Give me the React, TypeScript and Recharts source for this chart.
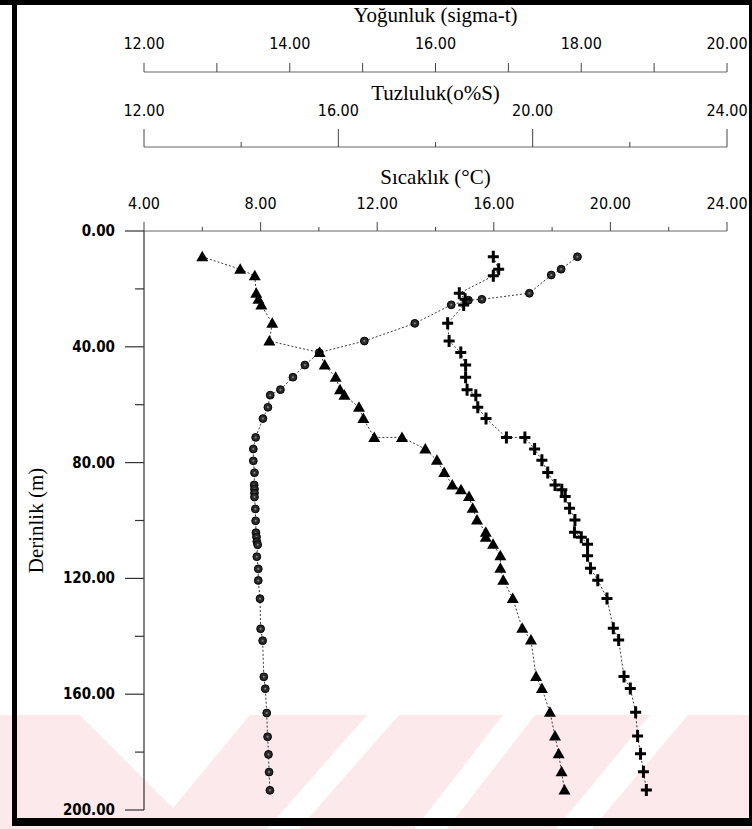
import React from "react";
import { ScatterChart, Scatter, XAxis, YAxis } from "recharts";

// depths (m) shared by the density and salinity casts
const depthDS = [
  8.9, 13.2, 15.5, 21.5, 23.6, 25.6, 31.9, 38.0, 42.0, 46.3, 50.5, 54.8, 56.7, 60.9, 64.8, 71.3, 71.3, 75.3,
  79.2, 83.4, 87.7, 89.4, 91.7, 95.8, 99.8, 104.1, 105.8, 108.2, 112.2, 116.5, 120.6, 126.9, 137.2, 141.3,
  153.9, 158.0, 166.2, 174.4, 180.6, 186.8, 193.1,
];
const density = [
  12.8, 13.32, 13.52, 13.54, 13.57, 13.61, 13.76, 13.72, 14.41, 14.48, 14.63, 14.69, 14.75, 14.95, 15.01,
  15.16, 15.54, 15.86, 16.02, 16.12, 16.23, 16.35, 16.46, 16.51, 16.57, 16.69, 16.69, 16.79, 16.89, 16.89,
  16.93, 17.06, 17.19, 17.31, 17.38, 17.46, 17.57, 17.64, 17.69, 17.73, 17.77,
];
const salinity = [
  19.19, 19.3, 19.19, 18.49, 18.61, 18.58, 18.25, 18.28, 18.52, 18.62, 18.62, 18.65, 18.83, 18.87, 19.04,
  19.46, 19.84, 20.04, 20.19, 20.31, 20.46, 20.6, 20.67, 20.76, 20.87, 20.86, 21.0, 21.13, 21.13, 21.19,
  21.34, 21.53, 21.66, 21.77, 21.88, 22.01, 22.12, 22.16, 22.22, 22.28, 22.34,
];

const depthT = [
  8.9, 13.2, 15.2, 21.5, 23.6, 23.9, 25.5, 31.9, 38.0, 42.0, 46.3, 50.5, 54.8, 56.7, 60.9, 64.8, 71.3, 75.3,
  79.4, 83.5, 87.7, 89.1, 90.5, 91.9, 96.0, 100.1, 104.2, 105.7, 107.3, 108.4, 112.5, 116.7, 120.7, 127.0,
  137.4, 141.5, 154.0, 158.1, 166.5, 174.7, 180.8, 186.9, 193.2,
];
const temperature = [
  18.87, 18.31, 17.97, 17.22, 15.59, 15.13, 14.54, 13.29, 11.56, 10.01, 9.52, 9.11, 8.68, 8.33, 8.25, 8.08,
  7.83, 7.75, 7.75, 7.79, 7.78, 7.79, 7.79, 7.79, 7.82, 7.83, 7.84, 7.86, 7.87, 7.9, 7.87, 7.92, 7.92, 7.98,
  8.0, 8.07, 8.11, 8.16, 8.21, 8.24, 8.27, 8.29, 8.32,
];

const densityTicks = [12, 13, 14, 15, 16, 17, 18, 19, 20];
const salinityTicks = [12, 14, 16, 18, 20, 22, 24];
const tempTicks = [4, 6, 8, 10, 12, 14, 16, 18, 20, 22, 24];
const depthTicks = [0, 20, 40, 60, 80, 100, 120, 140, 160, 180, 200];

const densityData = density.map((v, i) => ({ v, depth: depthDS[i] }));
const salinityData = salinity.map((v, i) => ({ v, depth: depthDS[i] }));
const tempData = temperature.map((v, i) => ({ v, depth: depthT[i] }));

const tickFont = '"DejaVu Sans Condensed", "DejaVu Sans", sans-serif';
const titleFont = '"Liberation Serif", "DejaVu Serif", serif';
const linkLine = { stroke: "#3a3a3a", strokeWidth: 1, strokeDasharray: "2 2" };

const AxisTitle = ({ viewBox, value, dy }: any) => {
  if (!viewBox) return null;
  return (
    <text
      x={viewBox.x + viewBox.width / 2}
      y={viewBox.y + dy}
      textAnchor="middle"
      dominantBaseline="central"
      fontFamily={titleFont}
      fontSize={21}
      fill="#000"
    >
      {value}
    </text>
  );
};

// top axis tick: short line pointing up from the axis, label above it
const topTick = (labelEvery: number, gap: number, longLen: number, shortLen: number) => (p: any) => {
  const val = p.payload.value;
  const labelled = Math.abs(val / labelEvery - Math.round(val / labelEvery)) < 1e-6;
  return (
    <g>
      <line x1={p.x} x2={p.x} y1={p.y} y2={p.y - (labelled ? longLen : shortLen)} stroke="#444" strokeWidth={1} />
      {labelled && (
        <text x={p.x} y={p.y - gap} textAnchor="middle" dominantBaseline="central" fontFamily={tickFont} fontSize={16} fill="#000">
          {val.toFixed(2)}
        </text>
      )}
    </g>
  );
};

const DepthTick = (p: any) => {
  const val = p.payload.value;
  const labelled = val % 40 === 0;
  return (
    <g>
      <line x1={p.x - (labelled ? 19 : 9)} x2={p.x} y1={p.y} y2={p.y} stroke="#333" strokeWidth={1.2} />
      {labelled && (
        <text x={p.x - 29} y={p.y} textAnchor="end" dominantBaseline="central" fontFamily={tickFont} fontWeight="bold" fontSize={15} fill="#000">
          {val.toFixed(2)}
        </text>
      )}
    </g>
  );
};

const DepthTitle = ({ viewBox }: any) => {
  if (!viewBox) return null;
  const cy = viewBox.y + viewBox.height / 2;
  return (
    <text x={36} y={cy} transform={`rotate(-90 36 ${cy})`} textAnchor="middle" dominantBaseline="central" fontFamily={titleFont} fontSize={21} fill="#000">
      Derinlik (m)
    </text>
  );
};

const Triangle = ({ cx, cy }: any) => (
  <polygon points={`${cx},${cy - 6} ${cx - 6},${cy + 4.5} ${cx + 6},${cy + 4.5}`} fill="#000" />
);
const Dot = ({ cx, cy }: any) => (
  <g>
    <circle cx={cx} cy={cy} r={3.9} fill="#2b2b2b" stroke="#000" strokeWidth={1} />
    <circle cx={cx} cy={cy} r={1} fill="#8a8a8a" />
  </g>
);
const Plus = ({ cx, cy }: any) => (
  <path d={`M${cx - 5.5},${cy - 1.5}h11v3h-11z M${cx - 1.5},${cy - 6}h3v12h-3z`} fill="#000" />
);

// faint thesis watermark band and scanned page border
const Backdrop = () => (
  <svg width={752} height={829} style={{ position: "absolute", left: 0, top: 0 }}>
    <rect x={0} y={715} width={752} height={114} fill="#fce9ec" />
    <polygon points="80,715 250,715 173,808" fill="#fff" />
    <polygon points="367,715 399,715 299,829 267,829" fill="#fff" />
    <polygon points="503,715 535,715 447,829 415,829" fill="#fff" />
    <polygon points="650,715 688,715 592,829 556,829" fill="#fff" />
    <rect x={0} y={0} width={752} height={5} fill="#000" />
    <rect x={12} y={0} width={5} height={826} fill="#000" />
    <rect x={12} y={818} width={740} height={8} fill="#000" />
    <rect x={749} y={0} width={3} height={826} fill="#000" />
  </svg>
);

// axis ids are ordered so that the temperature axis sits next to the plot
export default function App() {
  return (
    <div style={{ position: "absolute", left: 0, top: 0, width: 752, height: 829, background: "#fff" }}>
      <Backdrop />
      <div style={{ position: "absolute", left: 0, top: 0 }}>
        <ScatterChart width={752} height={829} margin={{ top: 0, right: 25, bottom: 19, left: 0 }}>
          <XAxis
            xAxisId="a"
            type="number"
            dataKey="v"
            orientation="top"
            domain={[4, 24]}
            ticks={tempTicks}
            interval={0}
            height={84}
            tickSize={0}
            tickMargin={0}
            tickLine={false}
            axisLine={{ stroke: "#666" }}
            tick={topTick(4, 28, 9, 4)}
            label={<AxisTitle value="Sıcaklık (°C)" dy={30} />}
          />
          <XAxis
            xAxisId="b"
            type="number"
            dataKey="v"
            orientation="top"
            domain={[12, 24]}
            ticks={salinityTicks}
            interval={0}
            height={75}
            tickSize={0}
            tickMargin={0}
            tickLine={false}
            axisLine={{ stroke: "#666" }}
            tick={topTick(4, 37, 18, 5)}
            label={<AxisTitle value="Tuzluluk(o%S)" dy={21} />}
          />
          <XAxis
            xAxisId="c"
            type="number"
            dataKey="v"
            orientation="top"
            domain={[12, 20]}
            ticks={densityTicks}
            interval={0}
            height={72}
            tickSize={0}
            tickMargin={0}
            tickLine={false}
            axisLine={{ stroke: "#666" }}
            tick={topTick(2, 29, 9, 9)}
            label={<AxisTitle value="Yoğunluk (sigma-t)" dy={15} />}
          />
          <YAxis
            type="number"
            dataKey="depth"
            reversed
            domain={[0, 200]}
            ticks={depthTicks}
            interval={0}
            width={144}
            tickSize={0}
            tickMargin={0}
            tickLine={false}
            axisLine={{ stroke: "#333", strokeWidth: 1.2 }}
            tick={DepthTick}
            label={<DepthTitle />}
          />
          <Scatter data={tempData} xAxisId="a" line={linkLine} shape={Dot} isAnimationActive={false} />
          <Scatter data={densityData} xAxisId="c" line={linkLine} shape={Triangle} isAnimationActive={false} />
          <Scatter data={salinityData} xAxisId="b" line={linkLine} shape={Plus} isAnimationActive={false} />
        </ScatterChart>
      </div>
    </div>
  );
}
